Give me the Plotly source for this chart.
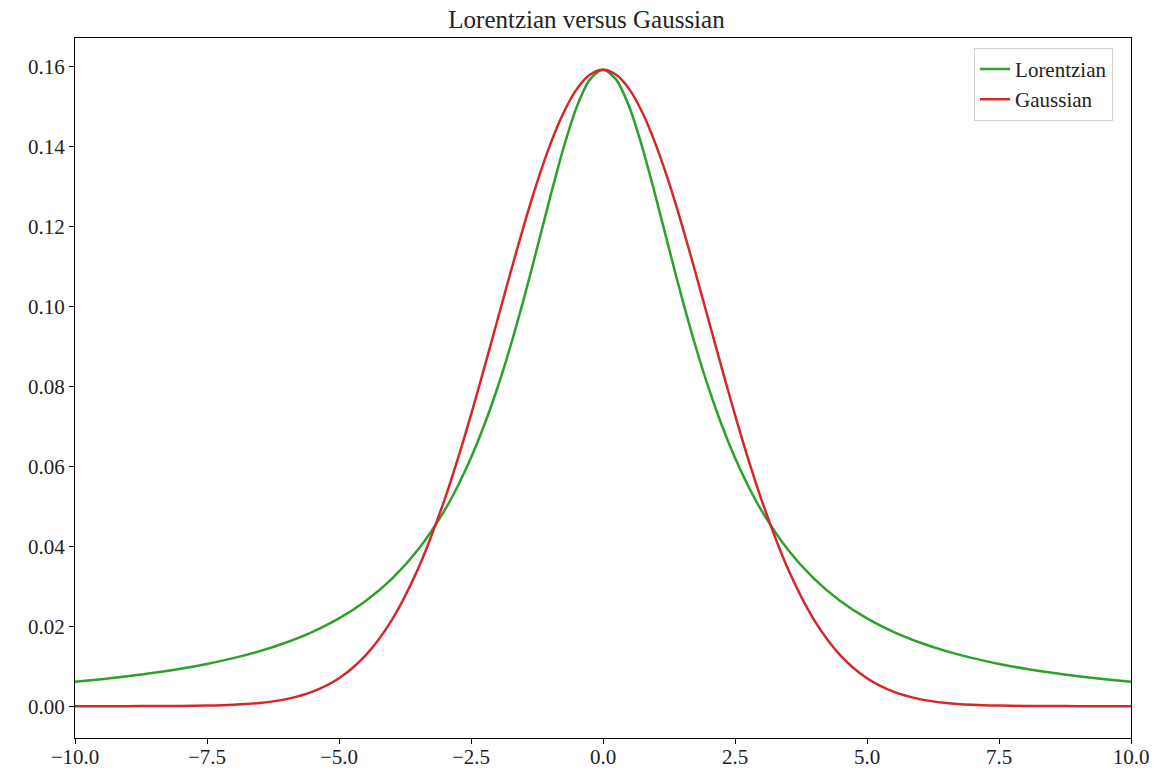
import plotly.graph_objects as go

# Sample positions along the x axis (denser around the peak)
x_vals = [-10.0, -9.5, -9.0, -8.5, -8.0, -7.5, -7.0, -6.5, -6.0, -5.5, -5.0,
          -4.5, -4.0, -3.5, -3.0, -2.75, -2.5, -2.25, -2.0, -1.75, -1.5,
          -1.25, -1.0, -0.75, -0.5, -0.25, 0.0,
          0.25, 0.5, 0.75, 1.0, 1.25, 1.5, 1.75, 2.0, 2.25, 2.5, 2.75, 3.0,
          3.5, 4.0, 4.5, 5.0, 5.5, 6.0, 6.5, 7.0, 7.5, 8.0, 8.5, 9.0, 9.5, 10.0]

lorentzian = [0.00612, 0.00675, 0.00749, 0.00835, 0.00936, 0.01057, 0.01201,
              0.01376, 0.01592, 0.01859, 0.02195, 0.02625, 0.03183, 0.03918,
              0.04897, 0.05506, 0.06211, 0.07025, 0.07958, 0.09014, 0.10186,
              0.11445, 0.12732, 0.13953, 0.14980, 0.15671, 0.15915,
              0.15671, 0.14980, 0.13953, 0.12732, 0.11445, 0.10186, 0.09014,
              0.07958, 0.07025, 0.06211, 0.05506, 0.04897,
              0.03918, 0.03183, 0.02625, 0.02195, 0.01859, 0.01592, 0.01376,
              0.01201, 0.01057, 0.00936, 0.00835, 0.00749, 0.00675, 0.00612]

gaussian = [0.00000, 0.00000, 0.00001, 0.00002, 0.00005, 0.00014, 0.00035,
            0.00081, 0.00177, 0.00363, 0.00699, 0.01266, 0.02154, 0.03442,
            0.05167, 0.06184, 0.07287, 0.08453, 0.09653, 0.10853, 0.12014,
            0.13092, 0.14045, 0.14835, 0.15426, 0.15792, 0.15915,
            0.15792, 0.15426, 0.14835, 0.14045, 0.13092, 0.12014, 0.10853,
            0.09653, 0.08453, 0.07287, 0.06184, 0.05167,
            0.03442, 0.02154, 0.01266, 0.00699, 0.00363, 0.00177, 0.00081,
            0.00035, 0.00014, 0.00005, 0.00002, 0.00001, 0.00000, 0.00000]

x_ticks = [-10.0, -7.5, -5.0, -2.5, 0.0, 2.5, 5.0, 7.5, 10.0]
y_ticks = [0.00, 0.02, 0.04, 0.06, 0.08, 0.10, 0.12, 0.14, 0.16]

FONT = "Liberation Serif"

fig = go.Figure()
fig.add_trace(go.Scatter(x=x_vals, y=lorentzian, mode="lines", name="Lorentzian",
                         line=dict(color="#2ca02c", width=2.5, shape="spline", smoothing=0.8)))
fig.add_trace(go.Scatter(x=x_vals, y=gaussian, mode="lines", name="Gaussian",
                         line=dict(color="#d62728", width=2.5, shape="spline", smoothing=0.8)))

axis_common = dict(
    showgrid=False, zeroline=False, showline=True, linecolor="black", linewidth=1,
    mirror=True, ticks="outside", ticklen=5, tickwidth=1, tickcolor="black",
    automargin=False,
    tickfont=dict(family=FONT, size=21, color="#222222"),
)

fig.update_layout(
    width=1173, height=771,
    margin=dict(l=75, r=42, t=38, b=33),
    paper_bgcolor="white", plot_bgcolor="white",
    title=dict(text="Lorentzian versus Gaussian", x=0.5, xanchor="center",
               y=1 - 19 / 771, yanchor="middle",
               font=dict(family=FONT, size=25, color="#222222")),
    xaxis=dict(range=[-10, 10], tickvals=x_ticks, tickformat=".1f",
               ticklabelstandoff=-5, **axis_common),
    yaxis=dict(range=[-0.00796, 0.16711], tickvals=y_ticks, tickformat=".2f", **axis_common),
    legend=dict(x=0.983, y=0.986, xanchor="right", yanchor="top",
                bgcolor="rgba(255,255,255,0.8)", bordercolor="#d0d0d0", borderwidth=1,
                font=dict(family=FONT, size=21, color="#222222"),
                tracegroupgap=2),
    showlegend=True,
)

fig.write_html("out.html")
